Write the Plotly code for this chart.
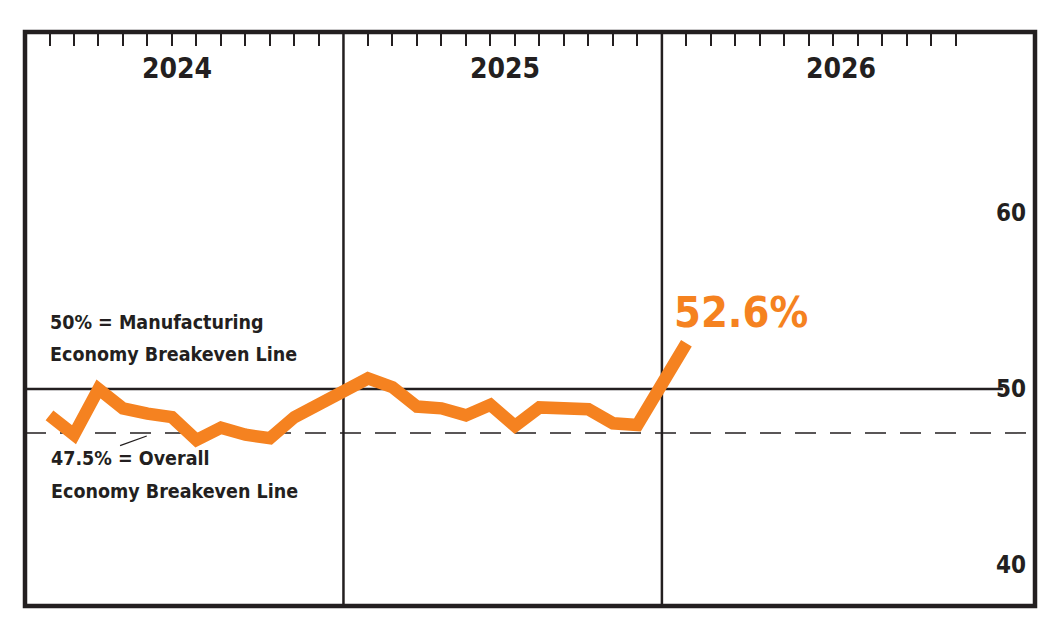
import plotly.graph_objects as go

# ---- data ----
years = ["2024", "2025", "2026"]
months_2024 = [48.5, 47.4, 50.0, 48.9, 48.6, 48.4, 47.1, 47.8, 47.4, 47.2, 48.4, 49.2]
months_2025 = [50.6, 50.1, 49.0, 48.9, 48.5, 49.1, 47.9, 48.95, 48.95, 48.85, 48.05, 47.95]
months_2026 = [52.6]
y_ticks = [60, 50, 40]
manufacturing_breakeven = 50
overall_breakeven = 47.5
last_label = "52.6%"
manufacturing_text = ["50% = Manufacturing", "Economy Breakeven Line"]
overall_text = ["47.5% = Overall", "Economy Breakeven Line"]

SLOTS = 13  # each year panel spans 13 slots; months sit at slots 1..12
values = months_2024 + months_2025 + months_2026
xs = []
for yi, series in enumerate([months_2024, months_2025, months_2026]):
    for m in range(len(series)):
        xs.append(yi * SLOTS + m + 1)

INK = "#231f20"
ORANGE = "#f58220"
FONT = "DejaVu Sans Condensed, Liberation Sans Narrow, sans-serif"

XMAX = 41.23
YMIN, YMAX = 37.67, 70.28

fig = go.Figure()
fig.add_trace(go.Scatter(x=xs, y=values, mode="lines",
                         line=dict(color=ORANGE, width=12.5),
                         hoverinfo="skip", showlegend=False))

tickvals = [yi * SLOTS + k for yi in range(3) for k in range(1, 13)]

fig.update_layout(
    width=1056, height=636,
    margin=dict(l=17, r=29, t=24, b=38),
    paper_bgcolor="white", plot_bgcolor="white",
    xaxis=dict(range=[0, XMAX], side="top", showgrid=False, zeroline=False,
               ticks="inside", tickvals=tickvals, ticklen=14, tickwidth=2,
               tickcolor=INK, showticklabels=False, fixedrange=True),
    yaxis=dict(range=[YMIN, YMAX], showgrid=False, zeroline=False,
               showticklabels=False, ticks="", fixedrange=True),
    font=dict(family=FONT, color=INK),
)

shapes = []
# breakeven lines
shapes.append(dict(type="line", xref="x", yref="y", x0=0, x1=39.92,
                   y0=manufacturing_breakeven, y1=manufacturing_breakeven,
                   line=dict(color=INK, width=2.5), layer="below"))
shapes.append(dict(type="line", xref="x", yref="y", x0=0, x1=XMAX,
                   y0=overall_breakeven, y1=overall_breakeven,
                   line=dict(color=INK, width=1.5, dash="21px,14px"), layer="below"))
# year dividers
for yi in range(1, 3):
    shapes.append(dict(type="line", xref="x", yref="paper", x0=yi * SLOTS, x1=yi * SLOTS,
                       y0=0, y1=1, line=dict(color=INK, width=2.5), layer="below"))
# pointer line for overall label
shapes.append(dict(type="line", xref="x", yref="y", x0=3.88, y0=46.78, x1=4.97, y1=47.33,
                   line=dict(color=INK, width=1.2)))
# frame
shapes.append(dict(type="rect", xref="paper", yref="paper", x0=0, x1=1, y0=0, y1=1,
                   line=dict(color=INK, width=4.5), layer="above"))
fig.update_layout(shapes=shapes)

ann = []
year_x = [6.22, 19.6, 33.3]
for yr, xp in zip(years, year_x):
    ann.append(dict(x=xp, y=68.2, xref="x", yref="y", text=f"<b>{yr}</b>",
                    showarrow=False, font=dict(size=28, color=INK, family=FONT),
                    xanchor="center", yanchor="middle"))
for v in y_ticks:
    ann.append(dict(x=40.94, y=v, xref="x", yref="y", text=f"<b>{v}</b>",
                    showarrow=False, font=dict(size=24, color=INK, family=FONT),
                    xanchor="right", yanchor="middle"))
for txt, yv in zip(manufacturing_text, [53.75, 51.95]):
    ann.append(dict(x=0.94, y=yv, xref="x", yref="y", text=f"<b>{txt}</b>",
                    showarrow=False, align="left", xanchor="left", yanchor="middle",
                    font=dict(size=19.5, color=INK, family=FONT)))
for txt, yv in zip(overall_text, [46.05, 44.2]):
    ann.append(dict(x=0.98, y=yv, xref="x", yref="y", text=f"<b>{txt}</b>",
                    showarrow=False, align="left", xanchor="left", yanchor="middle",
                    font=dict(size=19.5, color=INK, family=FONT)))
ann.append(dict(x=26.4, y=54.4, xref="x", yref="y", text=f"<b>{last_label}</b>",
                showarrow=False, xanchor="left", yanchor="middle",
                font=dict(size=43, color=ORANGE, family=FONT)))
fig.update_layout(annotations=ann)

fig.write_html("out.html", config={"displayModeBar": False})
